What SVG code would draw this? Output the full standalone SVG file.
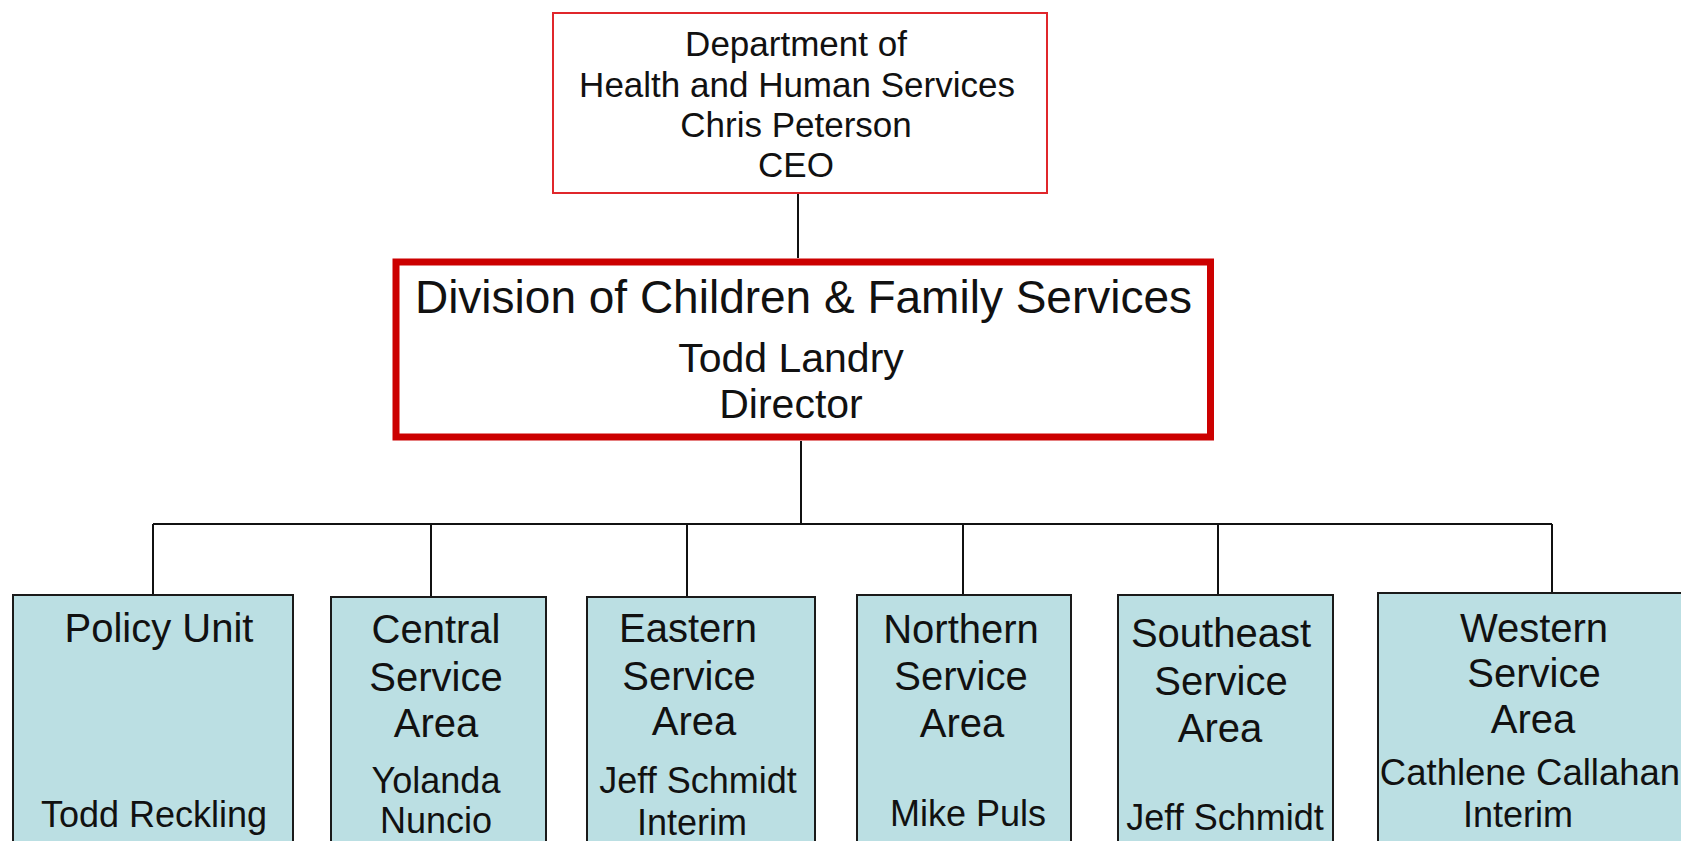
<svg xmlns="http://www.w3.org/2000/svg" width="1681" height="841" viewBox="0 0 1681 841">
  <style>
    text { font-family: "Liberation Sans", Arial, sans-serif; fill: #111; text-anchor: middle; }
    .t35 { font-size: 35px; }
    .t46 { font-size: 46px; }
    .t41 { font-size: 41px; }
    .hd { font-size: 40px; }
    .nm { font-size: 36px; }
    .unit { fill: #BBDFE3; stroke: #1a1a1a; stroke-width: 2; }
    .link { fill: none; stroke: #111; stroke-width: 2; }
  </style>
  <rect width="1681" height="841" fill="#ffffff"/>

  <!-- connectors -->
  <g id="connectors">
    <path class="link" d="M798 193 V258"/>
    <path class="link" d="M801 441 V524"/>
    <path class="link" d="M153 524 H1552"/>
    <path class="link" d="M153 524 V595"/>
    <path class="link" d="M431 524 V597"/>
    <path class="link" d="M687 524 V597"/>
    <path class="link" d="M963 524 V595"/>
    <path class="link" d="M1218 524 V595"/>
    <path class="link" d="M1552 524 V593"/>
  </g>

  <!-- top: department -->
  <g id="dhhs">
    <rect x="553" y="13" width="494" height="180" fill="#fff" stroke="#E0262B" stroke-width="2"/>
    <text class="t35" x="796" y="56">Department of</text>
    <text class="t35" x="797" y="97">Health and Human Services</text>
    <text class="t35" x="796" y="137">Chris Peterson</text>
    <text class="t35" x="796" y="177">CEO</text>
  </g>

  <!-- division -->
  <g id="dcfs">
    <rect x="396" y="262" width="814.5" height="175" fill="#fff" stroke="#CC0000" stroke-width="7"/>
    <text class="t46" x="803.5" y="313">Division of Children &amp; Family Services</text>
    <text class="t41" x="791" y="372">Todd Landry</text>
    <text class="t41" x="791" y="418">Director</text>
  </g>

  <!-- units -->
  <g id="policy">
    <rect class="unit" x="13" y="595" width="280" height="270"/>
    <text class="hd" x="159" y="642">Policy Unit</text>
    <text class="nm" x="154" y="827">Todd Reckling</text>
  </g>

  <g id="central">
    <rect class="unit" x="331" y="597" width="215" height="270"/>
    <text class="hd" x="436" y="643">Central</text>
    <text class="hd" x="436" y="691">Service</text>
    <text class="hd" x="436" y="737">Area</text>
    <text class="nm" x="436" y="793">Yolanda</text>
    <text class="nm" x="436" y="833">Nuncio</text>
  </g>

  <g id="eastern">
    <rect class="unit" x="587" y="597" width="228" height="270"/>
    <text class="hd" x="688" y="642">Eastern</text>
    <text class="hd" x="689" y="690">Service</text>
    <text class="hd" x="694" y="735">Area</text>
    <text class="nm" x="698" y="793">Jeff Schmidt</text>
    <text class="nm" x="692" y="835">Interim</text>
  </g>

  <g id="northern">
    <rect class="unit" x="857" y="595" width="214" height="270"/>
    <text class="hd" x="961" y="643">Northern</text>
    <text class="hd" x="961" y="690">Service</text>
    <text class="hd" x="962" y="737">Area</text>
    <text class="nm" x="968" y="826">Mike Puls</text>
  </g>

  <g id="southeast">
    <rect class="unit" x="1118" y="595" width="215" height="270"/>
    <text class="hd" x="1221" y="647">Southeast</text>
    <text class="hd" x="1221" y="695">Service</text>
    <text class="hd" x="1220" y="742">Area</text>
    <text class="nm" x="1225" y="830">Jeff Schmidt</text>
  </g>

  <g id="western">
    <rect class="unit" x="1378" y="593" width="320" height="270"/>
    <text class="hd" x="1534" y="642">Western</text>
    <text class="hd" x="1534" y="687">Service</text>
    <text class="hd" x="1533" y="733">Area</text>
    <text class="nm" x="1530" y="785" style="font-size:36.5px">Cathlene Callahan</text>
    <text class="nm" x="1518" y="827">Interim</text>
  </g>
</svg>
